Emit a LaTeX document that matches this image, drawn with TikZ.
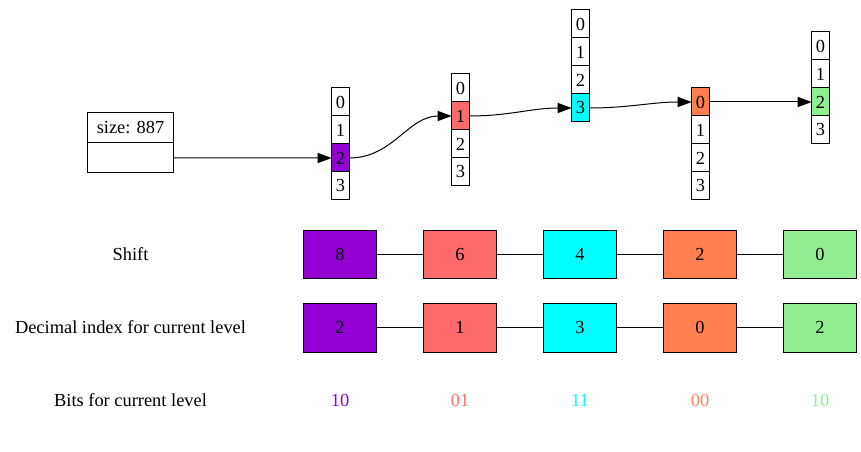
\documentclass[tikz,border=0pt]{standalone}
\usepackage{fontspec}
\setmainfont{Liberation Serif}
\usetikzlibrary{positioning,arrows.meta}
\definecolor{lvlA}{HTML}{9400D3}
\definecolor{lvlB}{HTML}{FF6A6A}
\definecolor{lvlC}{HTML}{00FFFF}
\definecolor{lvlD}{HTML}{FF7F50}
\definecolor{lvlE}{HTML}{90EE90}
\begin{document}
\begin{tikzpicture}[x=0.75pt,y=-0.75pt,font=\fontsize{13.8}{15}\selectfont,
        cell/.style={draw,line width=0.75pt,minimum width=13.2pt,minimum height=21pt,inner sep=0pt,outer sep=0pt},
        bitbox/.style={draw,line width=0.75pt,minimum width=54.4pt,minimum height=36.4pt,inner sep=0pt},
        rowlabel/.style={inner sep=0pt},
        link/.style={-{Triangle[length=10.5pt,width=7.5pt]},line width=0.75pt},
        bond/.style={line width=0.75pt}]
            \useasboundingbox (0,0) rectangle (861,452);
            % root record
            \node[cell,minimum width=65.2pt,minimum height=23.2pt] (roottop) at (130.5,127.5) {size: 887};
            \node[cell,minimum width=65.2pt,minimum height=22.5pt,below=0pt of roottop] (rootbot) {};
            % level 1
            \node[cell] (n1c0) at (340.5,102) {0};
            \node[cell,below=0pt of n1c0] (n1c1) {1};
            \node[cell,fill=lvlA,below=0pt of n1c1] (n1c2) {2};
            \node[cell,below=0pt of n1c2] (n1c3) {3};
            % level 2
            \node[cell] (n2c0) at (460.5,88) {0};
            \node[cell,fill=lvlB,below=0pt of n2c0] (n2c1) {1};
            \node[cell,below=0pt of n2c1] (n2c2) {2};
            \node[cell,below=0pt of n2c2] (n2c3) {3};
            % level 3
            \node[cell] (n3c0) at (580.5,24) {0};
            \node[cell,below=0pt of n3c0] (n3c1) {1};
            \node[cell,below=0pt of n3c1] (n3c2) {2};
            \node[cell,fill=lvlC,below=0pt of n3c2] (n3c3) {3};
            % level 4
            \node[cell,fill=lvlD] (n4c0) at (700.5,102) {0};
            \node[cell,below=0pt of n4c0] (n4c1) {1};
            \node[cell,below=0pt of n4c1] (n4c2) {2};
            \node[cell,below=0pt of n4c2] (n4c3) {3};
            % level 5
            \node[cell] (n5c0) at (820.5,46) {0};
            \node[cell,below=0pt of n5c0] (n5c1) {1};
            \node[cell,fill=lvlE,below=0pt of n5c1] (n5c2) {2};
            \node[cell,below=0pt of n5c2] (n5c3) {3};

            \draw[link] (rootbot.east) -- (n1c2.west);
            \draw[link] (n1c2.east) to[out=0,in=180] (n2c1.west);
            \draw[link] (n2c1.east) to[out=0,in=180] (n3c3.west);
            \draw[link] (n3c3.east) to[out=0,in=180] (n4c0.west);
            \draw[link] (n4c0.east) -- (n5c2.west);

            % shift row
            \node[rowlabel] (shlab) at (130.5,254.5) {Shift};
            \node[bitbox,fill=lvlA] (sh1) at (340,254.5) {8};
            \node[bitbox,fill=lvlB] (sh2) at (460,254.5) {6};
            \node[bitbox,fill=lvlC] (sh3) at (580,254.5) {4};
            \node[bitbox,fill=lvlD] (sh4) at (700,254.5) {2};
            \node[bitbox,fill=lvlE] (sh5) at (820,254.5) {0};
            \draw[bond] (sh1) -- (sh2) (sh2) -- (sh3) (sh3) -- (sh4) (sh4) -- (sh5);

            % decimal row
            \node[rowlabel] (dxlab) at (130.5,327.5) {Decimal index for current level};
            \node[bitbox,fill=lvlA] (dx1) at (340,327.8) {2};
            \node[bitbox,fill=lvlB] (dx2) at (460,327.8) {1};
            \node[bitbox,fill=lvlC] (dx3) at (580,327.8) {3};
            \node[bitbox,fill=lvlD] (dx4) at (700,327.8) {0};
            \node[bitbox,fill=lvlE] (dx5) at (820,327.8) {2};
            \draw[bond] (dx1) -- (dx2) (dx2) -- (dx3) (dx3) -- (dx4) (dx4) -- (dx5);

            % bits row
            \node[rowlabel] (btlab) at (130.5,400.5) {Bits for current level};
            \node[rowlabel,text=lvlA] (bt1) at (340,400.5) {10};
            \node[rowlabel,text=lvlB] (bt2) at (460,400.5) {01};
            \node[rowlabel,text=lvlC] (bt3) at (580,400.5) {11};
            \node[rowlabel,text=lvlD] (bt4) at (700,400.5) {00};
            \node[rowlabel,text=lvlE] (bt5) at (820,400.5) {10};
\end{tikzpicture}
\end{document}
